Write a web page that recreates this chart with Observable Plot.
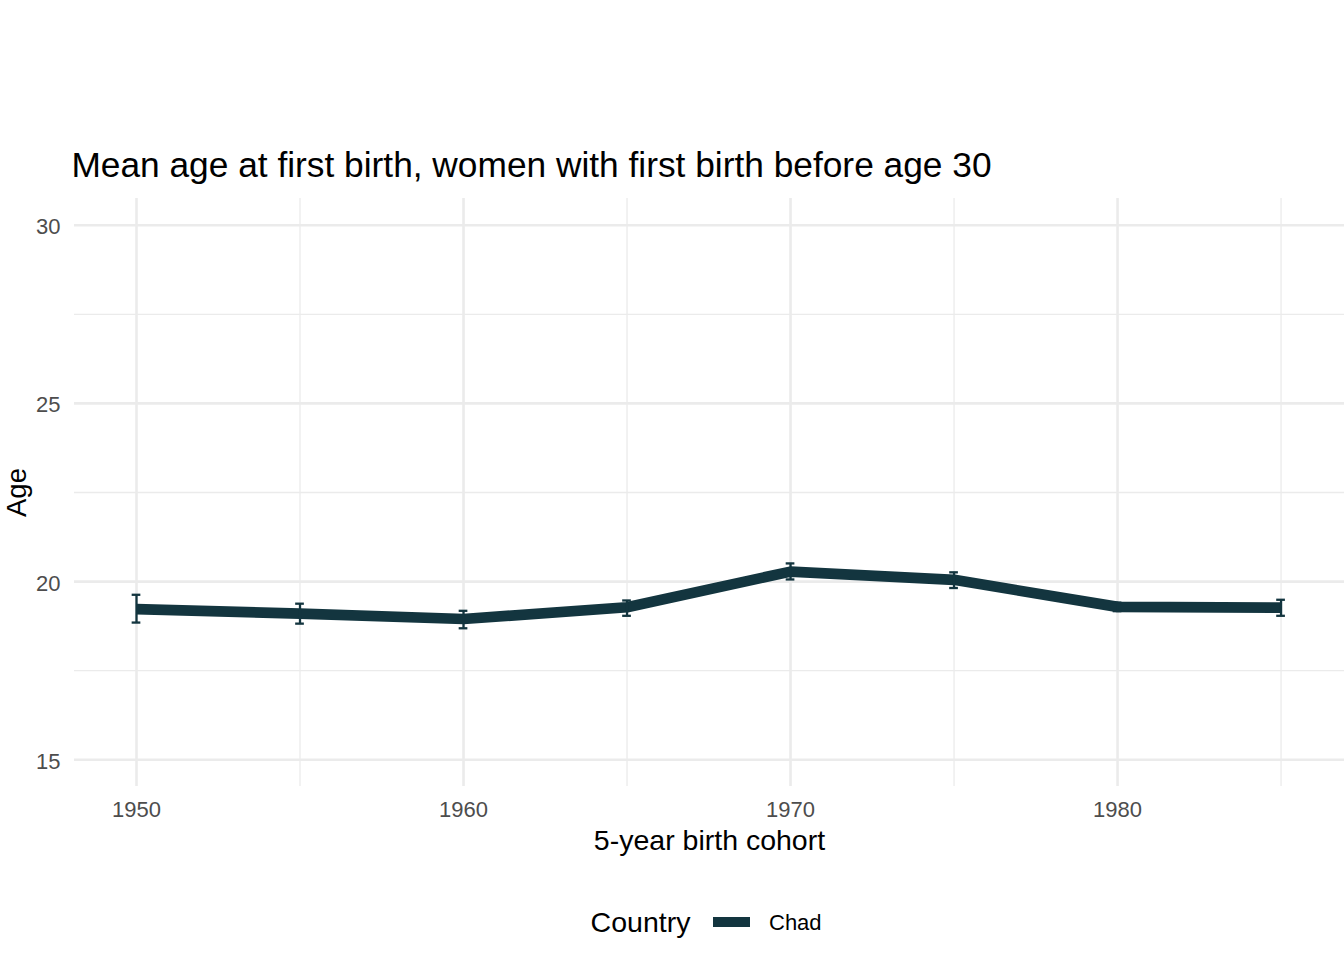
<!DOCTYPE html>
<html>
<head>
<meta charset="utf-8">
<script src="https://cdn.jsdelivr.net/npm/d3@7"></script>
<script src="https://cdn.jsdelivr.net/npm/@observablehq/plot@0.6"></script>
<style>
  html, body { margin: 0; padding: 0; background: #ffffff; }
  #page { position: relative; width: 1344px; height: 960px; overflow: hidden; font-family: "Liberation Sans", Arial, Helvetica, sans-serif; background: #fff; }
  .title { position: absolute; left: 71.4px; top: 146.8px; font-size: 35.3px; line-height: 35.3px; color: #000; white-space: nowrap; }
  #chart { position: absolute; left: 0; top: 198px; }
  .legend-title { position: absolute; left: 590.6px; top: 907.6px; font-size: 28.5px; line-height: 28.5px; color: #000; white-space: nowrap; }
  .legend-key { position: absolute; left: 713px; top: 916.7px; width: 37px; height: 10.7px; }
  .legend-label { position: absolute; left: 769px; top: 912.1px; font-size: 22px; line-height: 22px; color: #000; white-space: nowrap; }
</style>
</head>
<body>
<div id="page">
  <div class="title" id="title"></div>
  <div id="chart"></div>
  <div class="legend-title" id="legendTitle"></div>
  <div class="legend-key" id="legendKey"></div>
  <div class="legend-label" id="legendLabel"></div>
</div>
<script>
// ---- Data ----
const country = "Chad";
const years = [1950, 1955, 1960, 1965, 1970, 1975, 1980, 1985];
const meanAge = [19.23, 19.10, 18.95, 19.28, 20.28, 20.05, 19.29, 19.27];
const lowerAge = [18.85, 18.82, 18.69, 19.04, 20.06, 19.82, 19.17, 19.04];
const upperAge = [19.63, 19.38, 19.18, 19.47, 20.51, 20.26, 19.41, 19.49];

const xMajorTicks = [1950, 1960, 1970, 1980];
const xMinorTicks = [1955, 1965, 1975, 1985];
const yMajorTicks = [15, 20, 25, 30];
const yMinorTicks = [17.5, 22.5, 27.5];

const titleText = "Mean age at first birth, women with first birth before age 30";
const xLabel = "5-year birth cohort";
const yLabel = "Age";
const legendTitleText = "Country";

const lineColor = "#13353f";
const gridColor = "#ebebeb";

// table built from arrays
const rows = years.map((y, i) => ({year: y, mean: meanAge[i], low: lowerAge[i], high: upperAge[i], country}));

const chart = Plot.plot({
  width: 1344,
  height: 672,
  marginTop: 0,
  marginRight: 0,
  marginBottom: 84,
  marginLeft: 74,
  style: {fontFamily: "Liberation Sans, Arial, Helvetica, sans-serif", background: "transparent", overflow: "visible"},
  x: {domain: [1948.104, 1986.94]},
  y: {domain: [14.25, 30.75]},
  marks: [
    Plot.ruleX(xMinorTicks, {stroke: gridColor, strokeWidth: 1.3}),
    Plot.ruleY(yMinorTicks, {stroke: gridColor, strokeWidth: 1.3}),
    Plot.ruleX(xMajorTicks, {stroke: gridColor, strokeWidth: 2.6}),
    Plot.ruleY(yMajorTicks, {stroke: gridColor, strokeWidth: 2.6}),
    Plot.axisX({ticks: xMajorTicks, tickSize: 0, tickPadding: 15, fontSize: 22, fill: "#4d4d4d", tickFormat: d => String(d), label: null}),
    Plot.axisY({ticks: yMajorTicks, tickSize: 0, tickPadding: 14, fontSize: 22, fill: "#4d4d4d", dy: 2, tickFormat: d => String(d), label: null}),
    Plot.line(rows, {x: "year", y: "mean", stroke: lineColor, strokeWidth: 10.7, strokeLinecap: "butt", strokeLinejoin: "round"}),
    Plot.ruleX(rows, {x: "year", y1: "low", y2: "high", stroke: lineColor, strokeWidth: 2.3}),
    Plot.ruleY(rows, {y: "low", x1: "year", x2: "year", insetLeft: -4.35, insetRight: -4.35, stroke: lineColor, strokeWidth: 2.3}),
    Plot.ruleY(rows, {y: "high", x1: "year", x2: "year", insetLeft: -4.35, insetRight: -4.35, stroke: lineColor, strokeWidth: 2.3}),
    Plot.text([xLabel], {frameAnchor: "bottom", lineAnchor: "bottom", dy: 63.3, fontSize: 28.5, fill: "#000"}),
    Plot.text([yLabel], {frameAnchor: "left", textAnchor: "middle", lineAnchor: "bottom", rotate: -90, dx: -49, fontSize: 27.5, fill: "#000"})
  ]
});
document.getElementById("chart").appendChild(chart);
document.getElementById("title").textContent = titleText;
document.getElementById("legendTitle").textContent = legendTitleText;
document.getElementById("legendKey").style.background = lineColor;
document.getElementById("legendLabel").textContent = country;
</script>
</body>
</html>
